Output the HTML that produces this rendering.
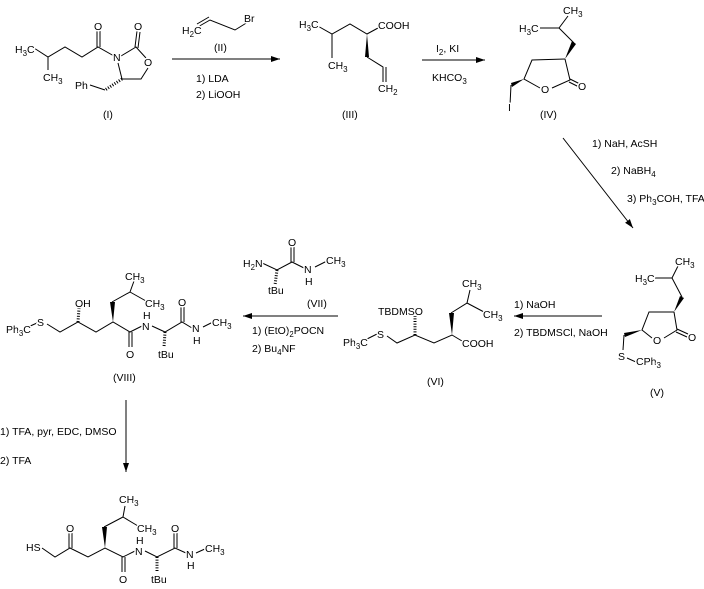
<!DOCTYPE html>
<html><head><meta charset="utf-8"><style>
html,body{margin:0;padding:0;background:#fff;}
svg{display:block;}
text{font-family:"Liberation Sans",sans-serif;font-size:10.5px;fill:#000;paint-order:stroke;stroke:#fff;stroke-width:3px;stroke-linejoin:round;}
.l{stroke:#000;stroke-width:1;fill:none;}
.h{stroke:#000;stroke-width:3;stroke-dasharray:1 1.6;fill:none;}
</style></head><body>
<svg width="704" height="589" viewBox="0 0 704 589" xmlns="http://www.w3.org/2000/svg">
<defs><marker id="a" markerWidth="10" markerHeight="8" refX="9" refY="4" orient="auto" markerUnits="userSpaceOnUse"><path d="M0,1 L9,4 L0,7 Z" fill="#000"/></marker></defs>

<!-- I -->
<polyline class="l" points="34,48 48,57 65,47 82,57 98,47 114,56"/>
<line class="l" x1="48" y1="57" x2="48" y2="70"/>
<line class="l" x1="97" y1="47" x2="97" y2="31"/><line class="l" x1="100" y1="47" x2="100" y2="31"/>
<polyline class="l" points="121,56 136,47 146,58"/>
<line class="l" x1="135" y1="47" x2="137" y2="31"/><line class="l" x1="138" y1="48" x2="140" y2="32"/>
<polyline class="l" points="148,68 141,79 122,79 118,63"/>
<line class="h" x1="122" y1="79" x2="105" y2="90"/>
<line class="l" x1="105" y1="90" x2="90" y2="85"/>
<text x="15" y="53">H<tspan font-size="8" dy="3">3</tspan><tspan dy="-3">C</tspan></text>
<text x="43" y="81">CH<tspan font-size="8" dy="3">3</tspan></text>
<text x="94" y="30">O</text><text x="134" y="30">O</text>
<text x="113" y="61">N</text><text x="144" y="66">O</text>
<text x="75" y="89">Ph</text>
<text x="103" y="118">(I)</text>

<!-- arrow 1 -->
<polyline class="l" points="196,28 210,20 235,30 248,22"/>
<line class="l" x1="197" y1="24" x2="209" y2="17"/>
<text x="182" y="34">H<tspan font-size="8" dy="3">2</tspan><tspan dy="-3">C</tspan></text>
<text x="244" y="22">Br</text>
<text x="214" y="51">(II)</text>
<line class="l" x1="172" y1="59" x2="280" y2="59" marker-end="url(#a)"/>
<text x="196" y="82">1) LDA</text><text x="196" y="98">2) LiOOH</text>

<!-- III -->
<polyline class="l" points="316,25 332,34 350,24 367,34 378,28"/>
<line class="l" x1="332" y1="34" x2="332" y2="58"/>
<polygon points="367,34 365,57 369,57" fill="#000"/>
<polyline class="l" points="367,57 383,67 383,82"/>
<line class="l" x1="386" y1="67" x2="386" y2="82"/>
<text x="299" y="28">H<tspan font-size="8" dy="3">3</tspan><tspan dy="-3">C</tspan></text>
<text x="328" y="69">CH<tspan font-size="8" dy="3">3</tspan></text>
<text x="378" y="29">COOH</text>
<text x="378" y="92">CH<tspan font-size="8" dy="3">2</tspan></text>
<text x="342" y="118">(III)</text>

<!-- arrow 2 -->
<line class="l" x1="422" y1="60" x2="485" y2="60" marker-end="url(#a)"/>
<text x="436" y="52">I<tspan font-size="8" dy="3">2</tspan><tspan dy="-3">, KI</tspan></text>
<text x="432" y="81">KHCO<tspan font-size="8" dy="3">3</tspan></text>

<!-- IV -->
<polyline class="l" points="540,28 559,28 568,16"/>
<line class="l" x1="559" y1="28" x2="574" y2="43"/>
<polygon points="565,59 572,41 576,44" fill="#000"/>
<polyline class="l" points="565,59 532,60 524,79 540,88"/>
<polyline class="l" points="565,59 570,80 552,88"/>
<line class="l" x1="570" y1="79" x2="580" y2="84"/><line class="l" x1="569" y1="82" x2="579" y2="87"/>
<polygon points="524,79 511,83 512,87" fill="#000"/>
<line class="l" x1="511" y1="85" x2="510" y2="105"/>
<text x="519" y="32">H<tspan font-size="8" dy="3">3</tspan><tspan dy="-3">C</tspan></text>
<text x="563" y="14">CH<tspan font-size="8" dy="3">3</tspan></text>
<text x="541" y="93">O</text><text x="578" y="90">O</text>
<text x="508" y="111">I</text>
<text x="540" y="118">(IV)</text>

<!-- diag arrow -->
<line class="l" x1="563" y1="138" x2="633" y2="228" marker-end="url(#a)"/>
<text x="592" y="147">1) NaH, AcSH</text>
<text x="611" y="174">2) NaBH<tspan font-size="8" dy="3">4</tspan></text>
<text x="627" y="202">3) Ph<tspan font-size="8" dy="3">3</tspan><tspan dy="-3">COH, TFA</tspan></text>

<!-- V -->
<polyline class="l" points="655,278 672,278 678,266"/>
<line class="l" x1="672" y1="278" x2="682" y2="297"/>
<polygon points="674,312 680,296 684,298" fill="#000"/>
<polyline class="l" points="674,312 649,312 642,330 652,338"/>
<polyline class="l" points="674,312 677,330 664,338"/>
<line class="l" x1="677" y1="329" x2="688" y2="334"/><line class="l" x1="676" y1="332" x2="687" y2="337"/>
<polygon points="642,330 624,333 625,337" fill="#000"/>
<line class="l" x1="624" y1="335" x2="623" y2="350"/>
<line class="l" x1="627" y1="358" x2="636" y2="362"/>
<text x="635" y="282">H<tspan font-size="8" dy="3">3</tspan><tspan dy="-3">C</tspan></text>
<text x="675" y="265">CH<tspan font-size="8" dy="3">3</tspan></text>
<text x="653" y="344">O</text><text x="688" y="341">O</text>
<text x="618" y="360">S</text>
<text x="636" y="365">CPh<tspan font-size="8" dy="3">3</tspan></text>
<text x="650" y="396">(V)</text>

<!-- arrow V->VI -->
<line class="l" x1="602" y1="316" x2="514" y2="316" marker-end="url(#a)"/>
<text x="514" y="308">1) NaOH</text>
<text x="514" y="336">2) TBDMSCl, NaOH</text>

<!-- VI -->
<polyline class="l" points="387,336 397,343 415,335 434,343 452,335 462,341"/>
<line class="h" x1="415" y1="335" x2="415" y2="316"/>
<polygon points="452,335 449,313 454,313" fill="#000"/>
<polyline class="l" points="451,313 467,303 470,290"/>
<line class="l" x1="467" y1="303" x2="484" y2="312"/>
<line class="l" x1="365" y1="340" x2="377" y2="334"/>
<text x="343" y="346">Ph<tspan font-size="8" dy="3">3</tspan><tspan dy="-3">C</tspan></text>
<text x="377" y="338">S</text>
<text x="378" y="315">TBDMSO</text>
<text x="462" y="287">CH<tspan font-size="8" dy="3">3</tspan></text>
<text x="483" y="318">CH<tspan font-size="8" dy="3">3</tspan></text>
<text x="462" y="347">COOH</text>
<text x="427" y="385">(VI)</text>

<!-- arrow VI->VIII & VII -->
<line class="l" x1="338" y1="316" x2="243" y2="316" marker-end="url(#a)"/>
<text x="252" y="334">1) (EtO)<tspan font-size="8" dy="3">2</tspan><tspan dy="-3">POCN</tspan></text>
<text x="252" y="352">2) Bu<tspan font-size="8" dy="3">4</tspan><tspan dy="-3">NF</tspan></text>
<polyline class="l" points="260,262 277,270 292,262 304,268"/>
<line class="h" x1="277" y1="270" x2="275" y2="285"/>
<line class="l" x1="291" y1="262" x2="291" y2="247"/><line class="l" x1="294" y1="262" x2="294" y2="247"/>
<line class="l" x1="315" y1="267" x2="327" y2="261"/>
<text x="243" y="267">H<tspan font-size="8" dy="3">2</tspan><tspan dy="-3">N</tspan></text>
<text x="268" y="294">tBu</text>
<text x="288" y="246">O</text>
<text x="304" y="273">N</text><text x="305" y="285">H</text>
<text x="326" y="264">CH<tspan font-size="8" dy="3">3</tspan></text>
<text x="307" y="307">(VII)</text>

<!-- VIII -->
<polyline class="l" points="28,327 37,323"/>
<polyline class="l" points="47,324 60,332 78,322 96,332 113,322 130,332 142,326"/>
<line class="h" x1="78" y1="322" x2="79" y2="308"/>
<polygon points="113,322 110,302 115,302" fill="#000"/>
<polyline class="l" points="112,302 130,292 134,281"/>
<line class="l" x1="130" y1="292" x2="146" y2="301"/>
<line class="l" x1="129" y1="332" x2="129" y2="347"/><line class="l" x1="132" y1="332" x2="132" y2="347"/>
<polyline class="l" points="152,326 165,332 182,322 192,328"/>
<line class="h" x1="165" y1="332" x2="164" y2="347"/>
<line class="l" x1="181" y1="322" x2="181" y2="307"/><line class="l" x1="184" y1="322" x2="184" y2="307"/>
<line class="l" x1="203" y1="327" x2="213" y2="322"/>
<text x="6" y="333">Ph<tspan font-size="8" dy="3">3</tspan><tspan dy="-3">C</tspan></text>
<text x="37" y="326">S</text>
<text x="75" y="307">OH</text>
<text x="125" y="280">CH<tspan font-size="8" dy="3">3</tspan></text>
<text x="145" y="307">CH<tspan font-size="8" dy="3">3</tspan></text>
<text x="142" y="330">N</text><text x="143" y="319">H</text>
<text x="126" y="358">O</text>
<text x="158" y="358">tBu</text>
<text x="178" y="306">O</text>
<text x="192" y="332">N</text><text x="193" y="344">H</text>
<text x="212" y="326">CH<tspan font-size="8" dy="3">3</tspan></text>
<text x="113" y="381">(VIII)</text>

<!-- down arrow -->
<line class="l" x1="126" y1="400" x2="126" y2="472" marker-end="url(#a)"/>
<text x="0" y="435">1) TFA, pyr, EDC, DMSO</text>
<text x="0" y="464">2) TFA</text>

<!-- final -->
<polyline class="l" points="42,548 55,557 70,548 88,557 105,548 123,557 135,551"/>
<line class="l" x1="69" y1="548" x2="69" y2="533"/><line class="l" x1="72" y1="548" x2="72" y2="533"/>
<polygon points="105,548 102,527 107,527" fill="#000"/>
<polyline class="l" points="104,527 123,517 125,506"/>
<line class="l" x1="123" y1="517" x2="138" y2="526"/>
<line class="l" x1="122" y1="557" x2="122" y2="572"/><line class="l" x1="125" y1="557" x2="125" y2="572"/>
<polyline class="l" points="145,551 157,557 175,548 186,553"/>
<line class="h" x1="157" y1="557" x2="157" y2="572"/>
<line class="l" x1="174" y1="548" x2="174" y2="533"/><line class="l" x1="177" y1="548" x2="177" y2="533"/>
<line class="l" x1="196" y1="553" x2="207" y2="548"/>
<text x="26" y="551">HS</text>
<text x="66" y="532">O</text>
<text x="119" y="503">CH<tspan font-size="8" dy="3">3</tspan></text>
<text x="137" y="532">CH<tspan font-size="8" dy="3">3</tspan></text>
<text x="135" y="555">N</text><text x="136" y="544">H</text>
<text x="119" y="583">O</text>
<text x="151" y="583">tBu</text>
<text x="171" y="532">O</text>
<text x="186" y="558">N</text><text x="187" y="569">H</text>
<text x="205" y="552">CH<tspan font-size="8" dy="3">3</tspan></text>
</svg>
</body></html>
